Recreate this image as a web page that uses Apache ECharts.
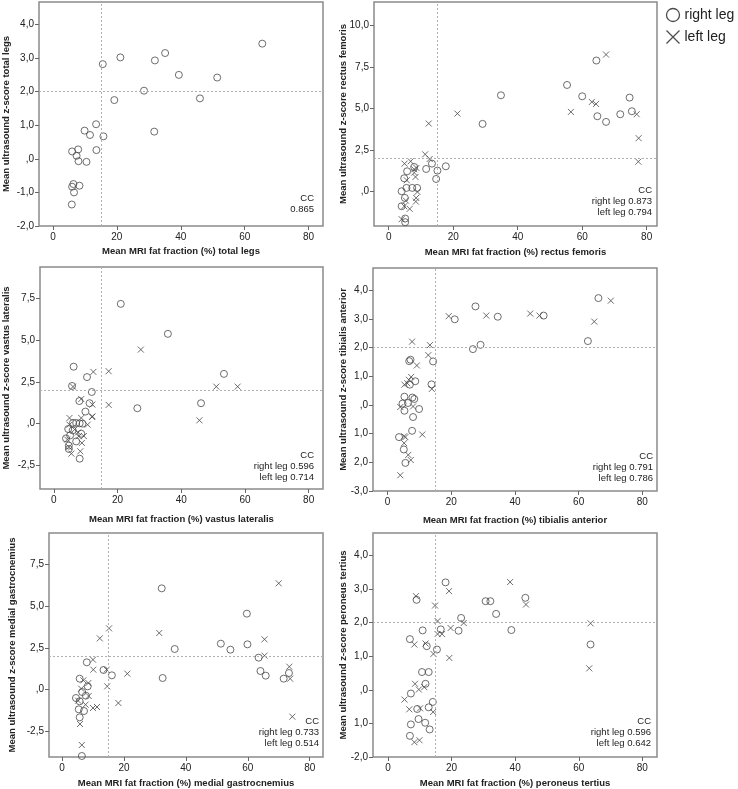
<!DOCTYPE html>
<html><head><meta charset="utf-8">
<script src="https://cdn.jsdelivr.net/npm/echarts@6/dist/echarts.min.js"></script>
<style>html,body{margin:0;padding:0;background:#fff}#c{width:738px;height:789px}</style>
</head><body><div id="c"></div>
<script>
// ---------- data ----------
const xTicks = [0, 20, 40, 60, 80];
const xTickLabels = ['0', '20', '40', '60', '80'];

const yTicksTotal = [-2, -1, 0, 1, 2, 3, 4];
const yLabelsTotal = ['-2,0', '-1,0', ',0', '1,0', '2,0', '3,0', '4,0'];
const yTicksRF = [0, 2.5, 5, 7.5, 10];
const yLabelsRF = [',0', '2,5', '5,0', '7,5', '10,0'];
const yTicksVL = [-2.5, 0, 2.5, 5, 7.5];
const yLabelsVL = ['-2,5', ',0', '2,5', '5,0', '7,5'];
const yTicksTA = [-3, -2, -1, 0, 1, 2, 3, 4];
const yLabelsTA = ['-3,0', '2,0', '1,0', ',0', '1,0', '2,0', '3,0', '4,0'];
const yTicksMG = [-2.5, 0, 2.5, 5, 7.5];
const yLabelsMG = ['-2,5', ',0', '2,5', '5,0', '7,5'];
const yTicksPT = [-2, -1, 0, 1, 2, 3, 4];
const yLabelsPT = ['-2,0', '1,0', ',0', '1,0', '2,0', '3,0', '4,0'];

const totalRight = [[65.5,3.43],[35.1,3.15],[21.1,3.02],[31.9,2.93],[15.6,2.82],[39.4,2.50],[51.4,2.42],[28.5,2.03],[46.0,1.80],[19.2,1.75],[13.5,1.03],[9.9,0.84],[11.6,0.71],[15.8,0.67],[31.7,0.81],[13.6,0.26],[7.9,0.28],[6.0,0.22],[7.4,0.09],[8.0,-0.07],[10.5,-0.09],[6.4,-0.75],[6.0,-0.83],[8.3,-0.80],[6.6,-1.0],[5.9,-1.36]];

const rfRight = [[64.4,7.88],[55.3,6.41],[34.8,5.79],[60.0,5.73],[74.7,5.65],[75.4,4.83],[71.8,4.65],[64.7,4.53],[67.4,4.19],[29.1,4.07],[17.7,1.52],[13.4,1.68],[11.6,1.36],[15.1,1.26],[14.7,0.76],[7.9,1.48],[5.7,1.22],[4.8,0.80],[5.5,0.22],[7.3,0.22],[8.8,0.22],[4.0,0.02],[5.0,-0.38],[4.0,-0.88],[5.1,-1.62],[5.1,-1.84]];
const rfLeft = [[67.4,8.24],[63.0,5.39],[64.3,5.27],[56.5,4.79],[76.9,4.65],[77.5,3.21],[77.4,1.80],[21.3,4.69],[12.4,4.09],[11.3,2.24],[12.7,1.96],[4.9,1.68],[6.8,1.82],[7.9,1.34],[8.6,1.42],[7.9,1.14],[8.3,0.88],[5.6,0.68],[8.9,-0.02],[8.5,-0.38],[8.4,-0.60],[5.3,-0.54],[4.8,-0.88],[6.5,-1.04],[4.0,-1.66]];

const vlRight = [[21.0,7.15],[35.8,5.36],[53.4,2.97],[6.2,3.40],[10.4,2.78],[5.7,2.25],[11.9,1.89],[8.0,1.35],[11.2,1.22],[26.2,0.92],[46.2,1.22],[9.9,0.72],[6.0,0.05],[7.0,0.04],[8.1,0.02],[9.0,0.0],[4.5,-0.32],[5.9,-0.40],[8.6,-0.60],[3.8,-0.88],[7.0,-1.06],[4.7,-1.31],[4.7,-1.51],[8.1,-2.09],[5.1,-0.70]];
const vlLeft = [[27.3,4.42],[17.2,3.13],[12.4,3.09],[6.0,2.21],[51.0,2.21],[57.7,2.21],[8.6,1.47],[17.2,1.12],[12.1,1.14],[12.1,0.44],[45.7,0.20],[10.6,-0.06],[4.9,0.34],[8.6,0.34],[4.9,-0.06],[7.6,-0.52],[8.8,-1.15],[4.7,-1.39],[5.5,-1.79],[8.3,-1.65],[12.0,0.40],[6.5,-0.35],[4.2,-0.95],[9.4,-0.74],[7.8,-0.75]];

const taRight = [[66.2,3.73],[27.6,3.44],[21.1,2.99],[34.6,3.08],[49.0,3.12],[62.9,2.23],[29.2,2.10],[26.8,1.95],[14.3,1.52],[7.2,1.58],[6.8,1.53],[13.8,0.72],[8.7,0.83],[7.0,0.71],[5.3,0.29],[7.8,0.26],[8.4,0.21],[4.7,0.05],[6.4,0.07],[5.3,-0.20],[9.9,-0.14],[8.0,-0.42],[7.7,-0.90],[3.6,-1.12],[5.1,-1.55],[5.6,-2.02]];
const taLeft = [[70.1,3.64],[19.2,3.10],[31.0,3.12],[44.8,3.19],[47.7,3.12],[64.9,2.91],[7.7,2.21],[13.3,2.09],[12.8,1.74],[9.2,1.38],[7.4,0.98],[6.7,0.88],[5.3,0.71],[13.9,0.56],[4.0,-0.07],[8.0,-0.05],[5.2,-1.09],[10.9,-1.03],[5.2,-1.33],[6.5,-1.74],[7.3,-1.92],[4.0,-2.45],[6.2,0.76],[5.6,-1.12]];

const mgRight = [[32.2,6.08],[59.7,4.56],[36.4,2.44],[51.3,2.76],[54.4,2.40],[59.9,2.72],[63.5,1.92],[8.0,1.64],[13.4,1.18],[16.1,0.86],[32.5,0.70],[64.1,1.12],[65.8,0.84],[73.3,1.00],[71.6,0.66],[5.7,0.66],[8.3,0.20],[6.5,-0.14],[7.7,-0.36],[4.5,-0.50],[5.7,-0.70],[5.4,-1.18],[7.1,-1.28],[5.7,-1.66],[6.4,-3.98]];
const mgLeft = [[70.0,6.38],[15.2,3.68],[12.2,3.08],[31.4,3.40],[65.4,3.02],[65.4,2.04],[73.4,1.38],[73.7,0.66],[74.4,-1.62],[10.0,1.80],[10.1,1.20],[14.4,1.20],[21.1,0.96],[14.6,0.20],[18.2,-0.80],[6.9,0.56],[8.5,0.40],[6.2,0.06],[8.6,-0.38],[7.6,-0.90],[10.0,-1.10],[11.3,-1.04],[5.8,-2.06],[6.4,-3.32],[5.2,-0.66]];

const ptRight = [[18.1,3.20],[9.0,2.68],[30.7,2.64],[32.2,2.64],[43.2,2.74],[34.0,2.26],[23.0,2.14],[10.9,1.77],[16.6,1.80],[22.2,1.76],[38.8,1.78],[63.7,1.35],[6.9,1.51],[12.2,1.30],[15.4,1.20],[10.7,0.53],[12.8,0.53],[11.8,0.18],[7.2,-0.11],[14.1,-0.36],[9.2,-0.57],[12.8,-0.52],[9.6,-0.87],[7.2,-1.03],[11.7,-0.98],[13.1,-1.18],[6.9,-1.37]];
const ptLeft = [[8.8,2.79],[19.2,2.94],[38.4,3.21],[43.4,2.54],[14.8,2.51],[15.6,2.05],[23.8,1.99],[63.7,1.98],[19.7,1.84],[17.0,1.66],[15.6,1.66],[8.3,1.35],[11.8,1.38],[14.3,1.07],[19.3,0.95],[63.3,0.64],[8.5,0.18],[9.7,0.01],[11.4,0.08],[5.2,-0.29],[6.7,-0.58],[10.1,-0.55],[14.2,-0.66],[9.9,-1.50],[8.3,-1.56]];

const muscles = ['total legs', 'rectus femoris', 'vastus lateralis', 'tibialis anterior', 'medial gastrocnemius', 'peroneus tertius'];
const ccText = [
  ['CC', '0.865'],
  ['CC', 'right leg 0.873', 'left leg 0.794'],
  ['CC', 'right leg 0.596', 'left leg 0.714'],
  ['CC', 'right leg 0.791', 'left leg 0.786'],
  ['CC', 'right leg 0.733', 'left leg 0.514'],
  ['CC', 'right leg 0.596', 'left leg 0.642']
];
const refX = 15, refY = 2;

// ---------- layout ----------
const FONT = '"Liberation Sans", Arial, sans-serif';
const panels = [
  {grid:{left:38,top:2,width:285,height:224}, x:[-4.36,84.5], y:[-2,4.67], yt:yTicksTotal, yl:yLabelsTotal, right:totalRight, left:null, yGap:28, xGap:20, cc:{x:314,y:198}},
  {grid:{left:374,top:2,width:283,height:224}, x:[-4.57,83.2], y:[-2.07,11.4], yt:yTicksRF, yl:yLabelsRF, right:rfRight, left:rfLeft, yGap:26, xGap:21, cc:{x:652,y:190}},
  {grid:{left:38,top:267,width:285,height:222}, x:[-4.36,84.5], y:[-3.9,9.35], yt:yTicksVL, yl:yLabelsVL, right:vlRight, left:vlLeft, yGap:29, xGap:25, cc:{x:314,y:455}},
  {grid:{left:373,top:268,width:284,height:223}, x:[-4.57,84.6], y:[-3,4.78], yt:yTicksTA, yl:yLabelsTA, right:taRight, left:taLeft, yGap:25, xGap:24, cc:{x:653,y:456.5}},
  {grid:{left:49,top:533,width:274,height:224}, x:[-4.21,84.3], y:[-4.04,9.4], yt:yTicksMG, yl:yLabelsMG, right:mgRight, left:mgLeft, yGap:32, xGap:21, cc:{x:319,y:721}},
  {grid:{left:373,top:533,width:284,height:224}, x:[-4.71,84.6], y:[-2,4.67], yt:yTicksPT, yl:yLabelsPT, right:ptRight, left:ptLeft, yGap:25, xGap:21, cc:{x:651,y:721.5}}
];

const crossPath = 'path://M0,0L10,10M10,0L0,10';
const markColor = '#4a4a4a';
const grids = [], xAxes = [], yAxes = [], series = [], graphics = [];

panels.forEach((p, i) => {
  grids.push(Object.assign({show:true, borderColor:'#8a8a8a', borderWidth:1.5, backgroundColor:'transparent', containLabel:false}, p.grid));
  xAxes.push({
    type:'value', gridIndex:i, min:p.x[0], max:p.x[1], position:'bottom',
    name:'Mean MRI fat fraction (%) ' + muscles[i], nameLocation:'middle', nameGap:p.xGap, nameMoveOverlap:false,
    nameTextStyle:{fontFamily:FONT, fontSize:9.5, fontWeight:'bold', color:'#222', verticalAlign:'top'},
    axisLine:{show:false, onZero:false}, splitLine:{show:false},
    axisTick:{show:true, inside:false, length:4, customValues:xTicks, lineStyle:{color:'#666', width:1}},
    axisLabel:{show:true, margin:6, customValues:xTicks, fontFamily:FONT, fontSize:10, color:'#222',
      formatter:(v) => { const k = xTicks.indexOf(v); return k >= 0 ? xTickLabels[k] : ''; }}
  });
  yAxes.push({
    type:'value', gridIndex:i, min:p.y[0], max:p.y[1], position:'left',
    name:'Mean ultrasound z-score ' + muscles[i], nameLocation:'middle', nameGap:p.yGap, nameMoveOverlap:false,
    nameTextStyle:{fontFamily:FONT, fontSize:9.5, fontWeight:'bold', color:'#222'},
    axisLine:{show:false, onZero:false}, splitLine:{show:false},
    axisTick:{show:true, inside:false, length:4, customValues:p.yt, lineStyle:{color:'#666', width:1}},
    axisLabel:{show:true, margin:5, customValues:p.yt, fontFamily:FONT, fontSize:10, color:'#222',
      formatter:(v) => { let k = -1; p.yt.forEach((t, j) => { if (Math.abs(t - v) < 1e-6) k = j; }); return k >= 0 ? p.yl[k] : ''; }}
  });
  series.push({
    name:'right leg', type:'scatter', xAxisIndex:i, yAxisIndex:i, data:p.right,
    symbol:'circle', symbolSize:7,
    itemStyle:{color:'none', borderColor:markColor, borderWidth:1},
    emphasis:{disabled:true}, silent:true, clip:false,
    markLine:{silent:true, symbol:'none', label:{show:false},
      lineStyle:{color:'#b0b0b0', type:[2,2], width:1},
      data:[{xAxis:refX}, {yAxis:refY}]}
  });
  if (p.left) {
    series.push({
      name:'left leg', type:'scatter', xAxisIndex:i, yAxisIndex:i, data:p.left,
      symbol:crossPath, symbolSize:6,
      itemStyle:{color:'none', borderColor:markColor, borderWidth:1},
      emphasis:{disabled:true}, silent:true, clip:false
    });
  }
  ccText[i].forEach((t, j) => {
    graphics.push({type:'text', x:p.cc.x, y:p.cc.y + j * 11, silent:true,
      style:{text:t, fontFamily:FONT, fontSize:9.5, fill:'#222', textAlign:'right', textVerticalAlign:'middle'}});
  });
});

const chart = echarts.init(document.getElementById('c'), null, {renderer:'canvas'});
chart.setOption({
  animation:false,
  backgroundColor:'#fff',
  grid:grids, xAxis:xAxes, yAxis:yAxes, series:series, graphic:graphics,
  legend:{
    orient:'vertical', left:662, top:1, itemWidth:13, itemHeight:13, itemGap:4,
    padding:[5,0,5,2],
    selectedMode:false,
    textStyle:{fontFamily:FONT, fontSize:14, color:'#222'},
    data:[
      {name:'right leg', icon:'circle', itemStyle:{color:'none', borderColor:'#222', borderWidth:1.3}},
      {name:'left leg', icon:crossPath, itemStyle:{color:'none', borderColor:'#222', borderWidth:1.3}}
    ]
  }
});
</script></body></html>
